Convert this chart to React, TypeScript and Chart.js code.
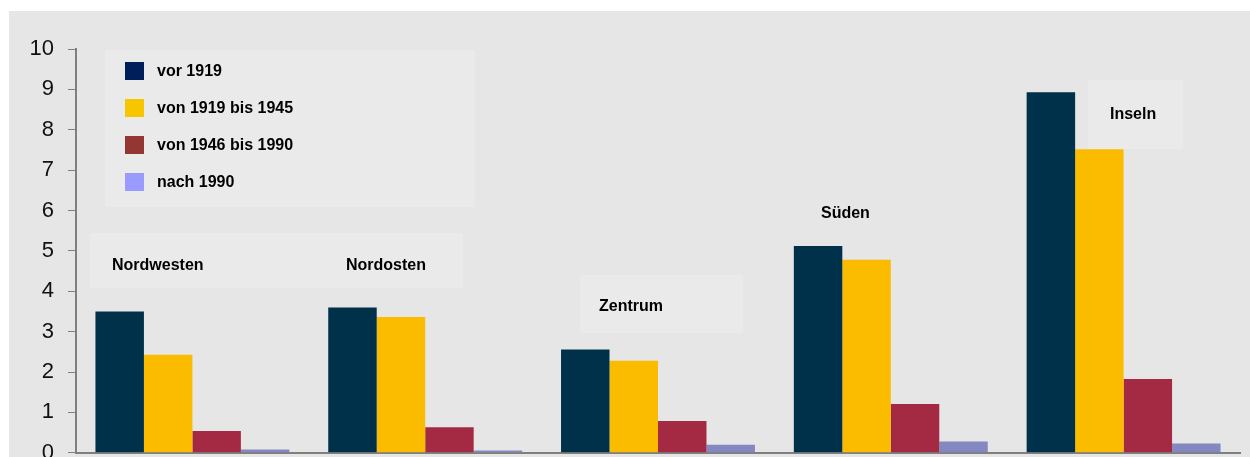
import React, { useEffect, useRef } from "react";
import { Chart, registerables } from "chart.js";

Chart.register(...registerables);

const categories = ["Nordwesten", "Nordosten", "Zentrum", "Süden", "Inseln"];
const seriesNames = ["vor 1919", "von 1919 bis 1945", "von 1946 bis 1990", "nach 1990"];
const vor1919 = [3.5, 3.6, 2.56, 5.12, 8.93];
const von1919bis1945 = [2.43, 3.36, 2.28, 4.78, 7.52];
const von1946bis1990 = [0.54, 0.63, 0.79, 1.21, 1.83];
const nach1990 = [0.08, 0.06, 0.2, 0.28, 0.23];
const yTicks = [0, 1, 2, 3, 4, 5, 6, 7, 8, 9, 10];

const barColors = ["#00314A", "#FBBC00", "#A32A42", "#8389C0"];
const legendColors = ["#001E5A", "#F7C600", "#943634", "#9B9BFF"];

// annotation placement (pixels) for the region labels
const labelPos = [
  { x: 112, y: 266 },
  { x: 346, y: 266 },
  { x: 599, y: 307 },
  { x: 821, y: 214 },
  { x: 1110, y: 115 },
];
const lightBoxes = [
  { x: 105, y: 50, w: 370, h: 157 },
  { x: 90, y: 233, w: 373, h: 55 },
  { x: 580, y: 275, w: 163, h: 58 },
  { x: 1088, y: 80, w: 95, h: 69 },
];

const FONT = "Arial, 'Liberation Sans', sans-serif";

const decorPlugin = {
  id: "decor",
  beforeDraw(chart: any) {
    const ctx = chart.ctx;
    ctx.save();
    ctx.fillStyle = "#ffffff";
    ctx.fillRect(0, 0, chart.width, chart.height);
    ctx.fillStyle = "#E6E6E6";
    ctx.fillRect(9, 11, chart.width - 9, chart.height - 11);
    ctx.fillStyle = "#EAEAEA";
    for (const b of lightBoxes) ctx.fillRect(b.x, b.y, b.w, b.h);
    ctx.restore();
  },
  afterDraw(chart: any) {
    const ctx = chart.ctx;
    ctx.save();
    ctx.font = `bold 16px ${FONT}`;
    ctx.textBaseline = "middle";
    ctx.textAlign = "left";
    ctx.fillStyle = "#000000";
    categories.forEach((c, i) => {
      ctx.fillText(c, labelPos[i].x, labelPos[i].y);
    });
    seriesNames.forEach((s, i) => {
      const cy = 71 + i * 37;
      ctx.fillStyle = legendColors[i];
      ctx.fillRect(125, cy - 9, 19, 18);
      ctx.fillStyle = "#000000";
      ctx.fillText(s, 157, cy + 1);
    });
    ctx.restore();
  },
};

export default function App() {
  const ref = useRef<HTMLCanvasElement>(null);
  useEffect(() => {
    if (!ref.current) return;
    const data = [vor1919, von1919bis1945, von1946bis1990, nach1990];
    const chart = new Chart(ref.current, {
      type: "bar",
      data: {
        labels: categories,
        datasets: seriesNames.map((n, i) => ({
          label: n,
          data: data[i],
          backgroundColor: barColors[i],
          borderWidth: 0,
          categoryPercentage: 0.833,
          barPercentage: 1,
        })),
      },
      options: {
        responsive: false,
        animation: false,
        devicePixelRatio: 1,
        layout: { padding: { left: 0, right: 10, top: 49, bottom: 0 } },
        plugins: { legend: { display: false }, tooltip: { enabled: false } },
        scales: {
          x: {
            ticks: { display: false },
            grid: { display: false },
            border: { display: true, color: "#7F7F7F", width: 2 },
            afterFit: (s: any) => {
              s.height = 0;
            },
          },
          y: {
            min: 0,
            max: 10,
            afterBuildTicks: (s: any) => {
              s.ticks = yTicks.map((v) => ({ value: v }));
            },
            ticks: {
              color: "#111111",
              font: { family: FONT, size: 22 },
              padding: 14,
            },
            grid: {
              drawOnChartArea: false,
              drawTicks: true,
              tickLength: 8,
              color: "#7F7F7F",
              lineWidth: 1,
            },
            border: { display: true, color: "#7F7F7F", width: 2 },
            afterFit: (s: any) => {
              s.width = 76;
            },
          },
        },
      },
      plugins: [decorPlugin],
    });
    return () => chart.destroy();
  }, []);
  return (
    <div style={{ position: "fixed", left: 0, top: 0, width: 1250, height: 457, overflow: "hidden" }}>
      <canvas ref={ref} width={1250} height={480} style={{ width: 1250, height: 480, display: "block" }} />
    </div>
  );
}
